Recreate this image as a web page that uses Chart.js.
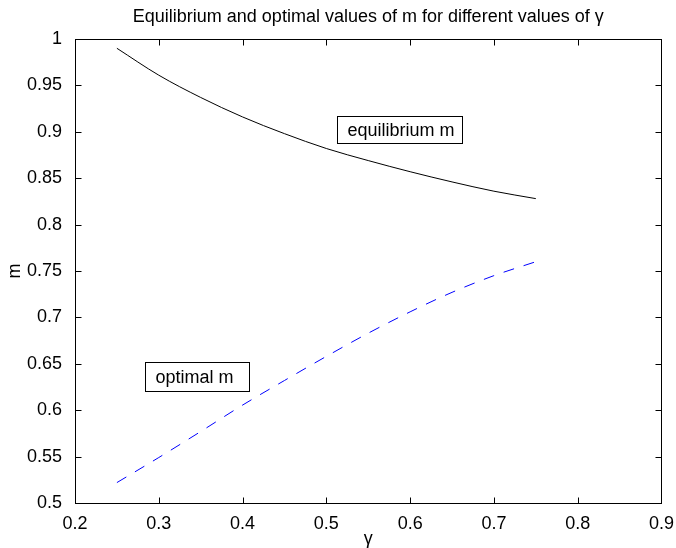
<!DOCTYPE html>
<html>
<head>
<meta charset="utf-8">
<script src="https://cdn.jsdelivr.net/npm/chart.js@4.4.0/dist/chart.umd.min.js"></script>
<style>
  html, body { margin: 0; padding: 0; background: #fff; }
  #wrap { width: 676px; height: 548px; }
</style>
</head>
<body>
<div id="wrap"><canvas id="mChart" width="676" height="548"></canvas></div>
<script>
// values
const gamma = [0.25, 0.30, 0.35, 0.40, 0.45, 0.50, 0.55, 0.60, 0.65, 0.70, 0.75];
const equilibriumM = [0.990, 0.961, 0.937, 0.916, 0.898, 0.882, 0.869, 0.857, 0.846, 0.836, 0.828];
const optimalM = [0.522, 0.549, 0.577, 0.6055, 0.632, 0.658, 0.683, 0.706, 0.727, 0.745, 0.760];

const xTicks = [0.2, 0.3, 0.4, 0.5, 0.6, 0.7, 0.8, 0.9];
const xTickLabels = ['0.2', '0.3', '0.4', '0.5', '0.6', '0.7', '0.8', '0.9'];
const yTicks = [0.5, 0.55, 0.6, 0.65, 0.7, 0.75, 0.8, 0.85, 0.9, 0.95, 1];
const yTickLabels = ['0.5', '0.55', '0.6', '0.65', '0.7', '0.75', '0.8', '0.85', '0.9', '0.95', '1'];

// text boxes, corners given in data units
const boxTexts = ['equilibrium m', 'optimal m'];
const boxX = [[0.5124, 0.6615], [0.2835, 0.4075]];
const boxY = [[0.917, 0.888], [0.652, 0.6207]];

const FONT = '"Liberation Sans", Arial, Helvetica, sans-serif';
const FS = 18;

// matlab style box with inward ticks + the two labels
const matlabFrame = {
  id: 'matlabFrame',
  afterDraw(chart) {
    const { ctx, chartArea: a, scales: { x, y } } = chart;
    const L = Math.round(a.left) + 0.5, R = Math.round(a.right) + 0.5;
    const T = Math.round(a.top) + 0.5, B = Math.round(a.bottom) + 0.5;
    const tl = 6;
    ctx.save();
    ctx.strokeStyle = '#000';
    ctx.lineWidth = 1;
    ctx.strokeRect(L, T, R - L, B - T);
    ctx.beginPath();
    xTicks.forEach(v => {
      const px = Math.round(x.getPixelForValue(v)) + 0.5;
      ctx.moveTo(px, B); ctx.lineTo(px, B - tl);
      ctx.moveTo(px, T); ctx.lineTo(px, T + tl);
    });
    yTicks.forEach(v => {
      const py = Math.round(y.getPixelForValue(v)) + 0.5;
      ctx.moveTo(L, py); ctx.lineTo(L + tl, py);
      ctx.moveTo(R, py); ctx.lineTo(R - tl, py);
    });
    ctx.stroke();

    ctx.font = FS + 'px ' + FONT;
    ctx.fillStyle = '#000';
    ctx.textBaseline = 'middle';
    ctx.textAlign = 'left';
    boxTexts.forEach((t, i) => {
      const x0 = Math.round(x.getPixelForValue(boxX[i][0])) + 0.5;
      const x1 = Math.round(x.getPixelForValue(boxX[i][1])) + 0.5;
      const y0 = Math.round(y.getPixelForValue(boxY[i][0])) + 0.5;
      const y1 = Math.round(y.getPixelForValue(boxY[i][1])) + 0.5;
      ctx.strokeRect(x0, y0, x1 - x0, y1 - y0);
      ctx.fillText(t, x0 + 10, (y0 + y1) / 2 + 1);
    });
    ctx.restore();
  }
};

const ctx = document.getElementById('mChart').getContext('2d');

const mChart = new Chart(ctx, {
  type: 'line',
  data: {
    datasets: [{
      label: 'equilibrium m',
      data: gamma.map((g, i) => ({ x: g, y: equilibriumM[i] })),
      borderColor: '#000',
      borderWidth: 1,
      pointRadius: 0,
      cubicInterpolationMode: 'monotone',
      fill: false
    }, {
      label: 'optimal m',
      data: gamma.map((g, i) => ({ x: g, y: optimalM[i] })),
      borderColor: '#0000ff',
      borderWidth: 1,
      borderDash: [11, 10],
      pointRadius: 0,
      cubicInterpolationMode: 'monotone',
      fill: false
    }]
  },
  options: {
    responsive: false,
    animation: false,
    devicePixelRatio: 1,
    layout: { padding: { left: 0, right: 14, top: 0, bottom: 0 } },
    scales: {
      x: {
        type: 'linear',
        min: 0.2,
        max: 0.9,
        afterBuildTicks: s => { s.ticks = xTicks.map(v => ({ value: v })); },
        afterFit: s => { s.height = 45; },
        grid: { display: false },
        border: { display: false },
        ticks: {
          color: '#000',
          padding: 2,
          maxRotation: 0,
          font: { family: FONT, size: FS },
          callback: (v, i) => xTickLabels[i]
        },
        title: {
          display: true,
          text: 'γ',
          color: '#000',
          padding: { top: 0, bottom: -2 },
          font: { family: FONT, size: FS }
        }
      },
      y: {
        min: 0.5,
        max: 1,
        afterBuildTicks: s => { s.ticks = yTicks.map(v => ({ value: v })); },
        afterFit: s => { s.width = 75; },
        grid: { display: false },
        border: { display: false },
        ticks: {
          color: '#000',
          padding: 5,
          font: { family: FONT, size: FS },
          callback: (v, i) => yTickLabels[i]
        },
        title: {
          display: true,
          text: 'm',
          color: '#000',
          padding: { top: 4, bottom: 0 },
          font: { family: FONT, size: FS }
        }
      }
    },
    plugins: {
      legend: { display: false },
      tooltip: { enabled: false },
      title: {
        display: true,
        fullSize: false,
        text: 'Equilibrium and optimal values of m for different values of γ',
        color: '#000',
        padding: { top: 6, bottom: 11.4 },
        font: { family: FONT, size: FS, weight: 'normal' }
      }
    }
  },
  plugins: [matlabFrame]
});
</script>
</body>
</html>
